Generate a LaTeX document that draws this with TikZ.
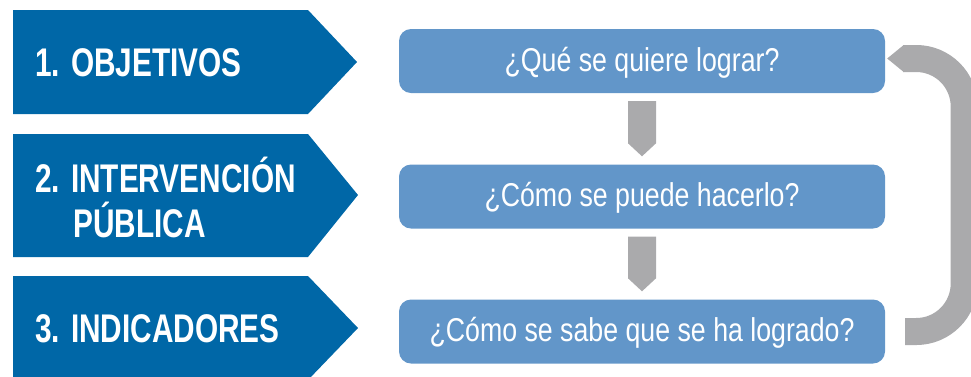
\documentclass[tikz,border=0pt]{standalone}
\usepackage{fontspec}
\setmainfont{Liberation Sans}
\newfontfamily\chevfont{Liberation Sans}[FakeStretch=0.745]
\newfontfamily\qfont{Liberation Sans}[FakeStretch=0.81]
\usetikzlibrary{calc}
\definecolor{chevblue}{HTML}{0067A7}
\definecolor{boxblue}{HTML}{6296C9}
\definecolor{arrgray}{HTML}{AAAAAC}
\begin{document}
\begin{tikzpicture}[x=1pt,y=-1pt,
  chev/.style={fill=chevblue},
  chevtext/.style={anchor=base west, inner sep=0pt, text=white,
    font=\chevfont\bfseries\fontsize{40}{40}\selectfont},
  qbox/.style={rectangle, rounded corners=12pt, fill=boxblue,
    minimum width=486pt, minimum height=64pt, text=white, inner sep=0pt,
    text height=24pt, text depth=4pt,
    font=\qfont\fontsize{33}{33}\selectfont},
  downarr/.style={fill=arrgray},
  retline/.style={draw=arrgray, line width=27pt, rounded corners=48pt}
]
\useasboundingbox (0,0) rectangle (971,376);
\clip (0,0) rectangle (971,376);

% chevrons
\fill[chev] (13,10) -- (308,10) -- (357,62) -- (308,114) -- (13,114) -- cycle;
\fill[chev] (13,134) -- (308,134) -- (358,195) -- (308,257) -- (13,257) -- cycle;
\fill[chev] (13,276) -- (308,276) -- (358,328) -- (308,380) -- (13,380) -- cycle;

\node[chevtext] (c1) at (35,76) {1. OBJETIVOS};
\node[chevtext] (c2a) at (35,192) {2. INTERVENCIÓN};
\node[chevtext] (c2b) at (73,237) {PÚBLICA};
\node[chevtext] (c3) at (35,342) {3. INDICADORES};

% question boxes
\node[qbox] (b1) at (642,61) {¿Qué se quiere lograr?};
\node[qbox] (b2) at (642,196.5) {¿Cómo se puede hacerlo?};
\node[qbox] (b3) at (642,331.5) {¿Cómo se sabe que se ha logrado?};

% down arrows
\fill[downarr] ($(b1.south)+(-14,8)$) -- ($(b1.south)+(14,8)$) -- ($(b2.north)+(14,-21)$)
  -- ($(b2.north)+(0,-8)$) -- ($(b2.north)+(-14,-21)$) -- cycle;
\fill[downarr] ($(b2.south)+(-14,8)$) -- ($(b2.south)+(14,8)$) -- ($(b3.north)+(14,-21)$)
  -- ($(b3.north)+(0,-8)$) -- ($(b3.north)+(-14,-21)$) -- cycle;

% return arrow
\coordinate (rs) at ([xshift=20pt]b3.east);
\coordinate (re) at ([xshift=18pt,yshift=2.5pt]b1.east);
\coordinate (rt) at ([xshift=2pt,yshift=2.5pt]b1.east);
\draw[retline] (rs) -- ++(59,0) |- (re);
\fill[arrgray] ($(re)+(0.5,-13.5)$) -- (rt) -- ($(re)+(0.5,13.5)$) -- cycle;
\end{tikzpicture}
\end{document}
